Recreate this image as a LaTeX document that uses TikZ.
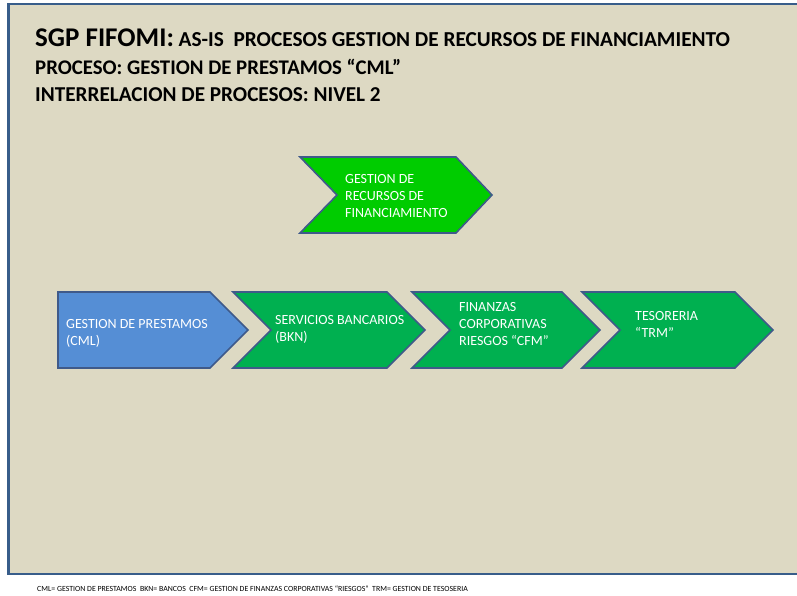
\documentclass[tikz,border=0pt]{standalone}
\usepackage{fontspec}
\setmainfont{Carlito}
\definecolor{panelfill}{HTML}{DDD9C3}
\definecolor{panelline}{HTML}{385D8A}
\definecolor{shapeline}{HTML}{3F5A8A}
\definecolor{brightgreen}{HTML}{00CC00}
\definecolor{rowgreen}{HTML}{00B050}
\definecolor{procblue}{HTML}{558ED5}
\tikzset{
  panel/.style={draw=panelline, line width=2.2pt, fill=panelfill},
  arrowshape/.style={draw=shapeline, line width=1.6pt, line join=miter},
  intext/.style={text=white, font=\fontsize{14}{17}\selectfont, align=left, anchor=west, inner sep=0pt},
  titletext/.style={anchor=base west, inner sep=0pt, font=\bfseries},
  foot/.style={anchor=base west, inner sep=0pt, font=\fontsize{7.85}{9}\selectfont}
}
\begin{document}
\begin{tikzpicture}[x=1pt,y=-1pt]
\useasboundingbox (0,0) rectangle (797,596);
\fill[white] (0,0) rectangle (797,596);
% panel
\draw[panel] (8.5,4) rectangle (805,574);
% title
\node[titletext] (t1) at (35,47) {\fontsize{27}{30}\selectfont SGP FIFOMI:\fontsize{21.3}{24}\selectfont{} AS-IS\ \ PROCESOS GESTION DE RECURSOS DE FINANCIAMIENTO};
\node[titletext] (t2) at (35,75) {\fontsize{20.8}{24}\selectfont PROCESO: GESTION DE PRESTAMOS “CML”};
\node[titletext] (t3) at (35,102) {\fontsize{21.2}{24}\selectfont INTERRELACION DE PROCESOS: NIVEL 2};
% top chevron
\draw[arrowshape, fill=brightgreen] (300,157) -- (456,157) -- (492,195) -- (456,233) -- (300,233) -- (337,195) -- cycle;
\node[intext] (grf) at (345,196) {GESTION DE\\RECURSOS DE\\FINANCIAMIENTO};
% row
\draw[arrowshape, fill=procblue] (58,292) -- (210,292) -- (248,330) -- (210,368) -- (58,368) -- cycle;
\node[intext] (cml) at (66,333) {GESTION DE PRESTAMOS\\(CML)};
\draw[arrowshape, fill=rowgreen] (233,292) -- (387,292) -- (425,330) -- (387,368) -- (233,368) -- (271,330) -- cycle;
\node[intext] (bkn) at (275,329) {SERVICIOS BANCARIOS\\(BKN)};
\draw[arrowshape, fill=rowgreen] (412,292) -- (562,292) -- (600,330) -- (562,368) -- (412,368) -- (450,330) -- cycle;
\node[intext] (cfm) at (459,324) {FINANZAS\\CORPORATIVAS\\RIESGOS “CFM”};
\draw[arrowshape, fill=rowgreen] (582,292) -- (735,292) -- (773,330) -- (735,368) -- (582,368) -- (620,330) -- cycle;
\node[intext] (trm) at (635,324) {TESORERIA\\“TRM”};
% footer
\node[foot] (leg) at (37,591) {CML= GESTION DE PRESTAMOS\ \ BKN= BANCOS\ \ CFM= GESTION DE FINANZAS CORPORATIVAS “RIESGOS”\ \ TRM= GESTION DE TESOSERIA};
\end{tikzpicture}
\end{document}
